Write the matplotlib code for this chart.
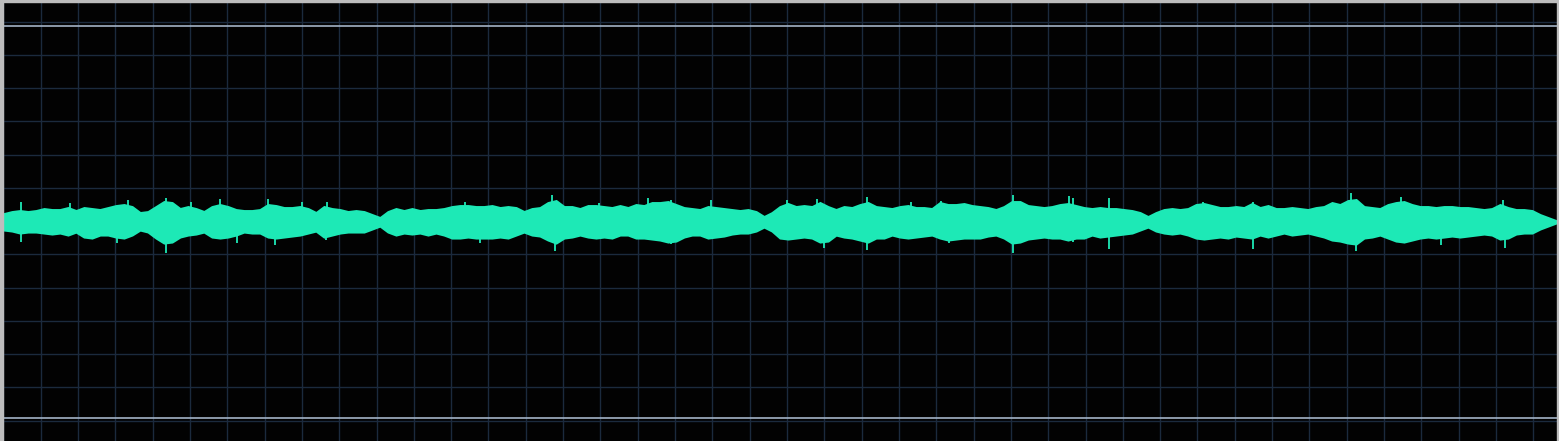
import numpy as np
import matplotlib
matplotlib.use("Agg")
import matplotlib.pyplot as plt
from matplotlib.patches import Rectangle

# ---- data: waveform envelope (level units, full scale = 196), one value per frame ----
FULL_SCALE = 196
env_top = [8,10,11,10,11, 13,12,12,14,11, 14,13,12,14,16, 17,15,9,10,15, 20,19,13,15,13, 10,15,17,15,12, 11,11,12,17,16, 14,14,15,13,
           9,15,13,12,10, 11,10,7,4,10, 13,11,13,11,12, 12,13,15,16,16, 15,15,16,14,15, 14,10,13,14,19, 21,15,15,13,16, 16,15,14,16,
           14,17,16,19,19, 20,17,14,13,12, 15,14,13,12,11, 12,10,5,9,15, 18,15,16,15,19, 15,12,15,14,17, 19,15,14,13,15, 16,14,14,13,
           19,17,17,18,16, 15,14,12,15,20, 20,16,15,14,15, 17,18,16,14,13, 14,13,13,12,11, 9,5,9,12,13, 12,13,17,18,16, 14,14,15,14,
           18,14,16,13,13, 14,13,12,14,15, 19,17,21,22,15, 14,13,17,19,20, 17,15,15,14,15, 15,14,14,13,12, 13,17,14,12,12, 11,7,4,1]
env_bot = [8,9,11,10,10, 11,12,11,13,10, 15,16,13,13,15, 16,13,8,10,16, 21,20,15,13,12, 10,15,16,15,13, 10,11,11,15,16, 15,14,13,11,
           9,15,13,11,10, 10,10,7,4,10, 13,11,12,11,13, 11,13,16,16,15, 16,16,16,15,16, 13,10,13,14,18, 21,16,15,13,15, 16,15,16,13,
           13,16,16,17,18, 20,19,15,13,13, 16,15,14,12,11, 11,9,5,9,16, 17,16,15,16,20, 19,13,15,16,18, 20,16,16,13,15, 16,15,14,13,
           16,18,17,16,16, 16,14,13,16,21, 20,17,16,15,16, 16,18,16,16,13, 15,14,13,12,11, 8,5,9,11,12, 11,13,16,17,16, 15,16,14,15,
           16,13,15,13,11, 13,12,11,13,15, 18,19,21,22,16, 15,13,16,19,20, 18,16,15,16,15, 14,15,14,13,12, 13,17,16,12,11, 11,7,4,1]

# prominent peaks (frame position, level)
peak_up_t = [2.1, 8.25, 15.5, 20.25, 23.4, 27, 33, 37.25, 40.4, 57.6, 68.5, 74.4, 80.5, 83.4, 88.4, 97.9, 101.6,
             107.9, 113.4, 117.1, 126.1, 133.1, 133.6, 138.1, 149.9, 156.1, 168.4, 174.6, 187.4]
peak_up_v = [20, 19, 22, 24, 20, 23, 23, 20, 20, 20, 27, 19, 24, 22, 22, 22, 23,
             25, 20, 21, 27, 26, 24, 24, 20, 20, 29, 25, 22]
peak_dn_t = [2.1, 14.1, 20.25, 29.1, 33.9, 40.25, 59.5, 68.9, 83.4, 102.5, 107.9, 118.1, 126.1, 133.6, 138.1,
             156.1, 169, 179.6, 187.6]
peak_dn_v = [20, 21, 31, 21, 23, 18, 21, 29, 22, 26, 28, 21, 31, 20, 27, 27, 29, 23, 26]

# ---- style ----
W, H = 1559, 441
WAVE = "#1de9b6"
GRID = "#1b2a3d"
LIMIT = "#a3b3c6"
BORDER = "#bdbdbd"

fig = plt.figure(figsize=(W / 100, H / 100), dpi=100)
fig.patch.set_facecolor("#000000")
ax = fig.add_axes([0, 0, 1, 1])
ax.set_facecolor("#020202")

frames = np.arange(len(env_top))
top = np.array(env_top, dtype=float)
bot = -np.array(env_bot, dtype=float)

# frame -> pixel: x = 4 + 8*frame ; level -> pixel: y = 221.8 - level
ax.set_xlim(-0.5, (W - 4) / 8)
ax.set_ylim(221.8 - H, 221.8)

# grid
for k in range(42):
    ax.axvline((3.4 + 37.315 * k - 4) / 8, color=GRID, lw=1.0, zorder=1)
for k in range(13):
    ax.axhline(200.1 - 33.25 * k, color=GRID, lw=1.0, zorder=1)
ax.axhline(FULL_SCALE, color=LIMIT, lw=1.2, zorder=2)
ax.axhline(-FULL_SCALE, color=LIMIT, lw=1.2, zorder=2)

ax.fill_between(frames, bot, top, color=WAVE, lw=1.8, edgecolor=WAVE, joinstyle="miter", zorder=3)
ax.vlines(peak_up_t, 0, peak_up_v, color=WAVE, lw=1.3, zorder=3)
ax.vlines(peak_dn_t, [-v for v in peak_dn_v], 0, color=WAVE, lw=1.3, zorder=3)

ax.set_xticks([])
ax.set_yticks([])
for s in ax.spines.values():
    s.set_visible(False)

# window border
fig.patches.append(Rectangle((0, 1 - 2 / H), 1, 2 / H, transform=fig.transFigure, color=BORDER, zorder=10))
fig.patches.append(Rectangle((0, 0), 2.5 / W, 1, transform=fig.transFigure, color=BORDER, zorder=10))
fig.patches.append(Rectangle((1 - 2 / W, 0), 2 / W, 1, transform=fig.transFigure, color=BORDER, zorder=10))

fig.savefig("out.png", dpi=100, facecolor=fig.get_facecolor())
